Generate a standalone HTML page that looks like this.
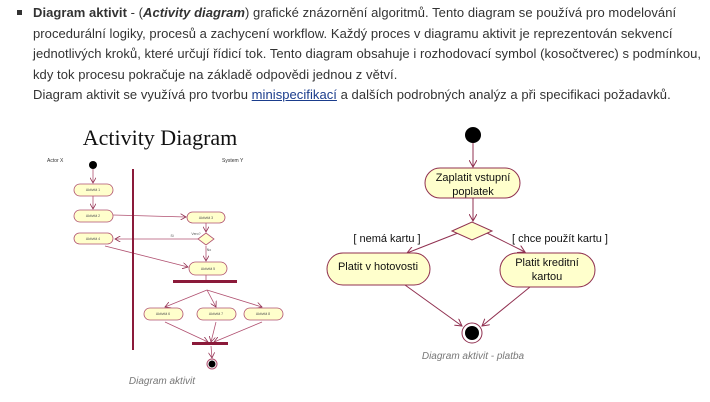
<!DOCTYPE html>
<html><head><meta charset="utf-8"><style>
body{margin:0;background:#fff;width:710px;height:402px;overflow:hidden;position:relative;font-family:"Liberation Sans",sans-serif}
.t{position:absolute;left:33px;top:3px;font-size:13px;line-height:20.6px;color:#333;width:690px;letter-spacing:0.05px;white-space:nowrap}
.b{position:absolute;left:17px;top:10px;width:5px;height:5px;background:#333}
a{color:#1a3c8c;text-decoration:underline}
svg{position:absolute;left:0;top:0}
</style></head><body>
<div class="b"></div>
<div class="t"><b>Diagram aktivit</b> - (<b><i>Activity diagram</i></b>) grafické znázornění algoritmů. Tento diagram se používá pro modelování<br>procedurální logiky, procesů a zachycení workflow. Každý proces v diagramu aktivit je reprezentován sekvencí<br>jednotlivých kroků, které určují řídicí tok. Tento diagram obsahuje i rozhodovací symbol (kosočtverec) s podmínkou,<br>kdy tok procesu pokračuje na základě odpovědi jednou z větví.<br>Diagram aktivit se využívá pro tvorbu <a>minispecifikací</a> a dalších podrobných analýz a při specifikaci požadavků.</div>
<svg width="710" height="402" viewBox="0 0 710 402">
<defs><marker id="a" markerWidth="8" markerHeight="8" refX="7" refY="4" orient="auto"><path d="M0,0 L7,4 L0,8" fill="none" stroke="#903050" stroke-width="1"/></marker></defs>
<g font-family="Liberation Serif" font-size="22" fill="#111"><text x="160" y="145" text-anchor="middle">Activity Diagram</text></g>
<g font-family="Liberation Sans" font-size="5" fill="#333"><text x="47" y="162">Actor X</text><text x="222" y="162">System Y</text></g>
<g stroke="#b05070" stroke-width="0.8" fill="none" marker-end="url(#a)">
<line x1="93" y1="169" x2="93" y2="183"/><line x1="93" y1="196" x2="93" y2="209"/>
<line x1="113" y1="215" x2="186" y2="217"/><line x1="206" y1="223" x2="206" y2="232"/>
<line x1="198" y1="239" x2="115" y2="239"/><line x1="206" y1="246" x2="206" y2="261"/>
<line x1="105" y1="246" x2="188" y2="267"/>
<line x1="207" y1="290" x2="165" y2="307"/><line x1="207" y1="290" x2="216" y2="307"/><line x1="207" y1="290" x2="262" y2="307"/>
<line x1="165" y1="322" x2="208" y2="342"/><line x1="216" y1="322" x2="211" y2="342"/><line x1="262" y1="322" x2="214" y2="342"/>
<line x1="211" y1="346" x2="212" y2="358"/>
</g>
<line x1="206" y1="275" x2="206" y2="281" stroke="#b05070" stroke-width="0.8"/>
<rect x="132" y="169" width="2" height="181" fill="#8b1a3a"/>
<rect x="173" y="280" width="64" height="3" fill="#8b1a3a"/>
<rect x="192" y="342" width="36" height="3" fill="#8b1a3a"/>
<circle cx="93" cy="165" r="4" fill="#000"/>
<circle cx="212" cy="364" r="5" fill="#fff" stroke="#b05070"/><circle cx="212" cy="364" r="3.5" fill="#000"/>
<g fill="#ffffcc" stroke="#b05070" stroke-width="0.8">
<rect x="74" y="184" width="39" height="12" rx="6"/><rect x="74" y="210" width="39" height="12" rx="6"/><rect x="74" y="233" width="39" height="11" rx="5.5"/>
<rect x="187" y="212" width="38" height="11" rx="5.5"/><rect x="189" y="262" width="38" height="13" rx="6.5"/>
<rect x="144" y="308" width="39" height="12" rx="6"/><rect x="197" y="308" width="39" height="12" rx="6"/><rect x="244" y="308" width="39" height="12" rx="6"/>
<polygon points="198,239 206,233 214,239 206,245"/>
</g>
<g font-family="Liberation Sans" font-size="3.5" fill="#555" text-anchor="middle">
<text x="93" y="191">Aktivită 1</text><text x="93" y="217">Aktivită 2</text><text x="93" y="240">Aktivită 4</text><text x="206" y="219">Aktivită 3</text><text x="208" y="270">Aktivită 5</text>
<text x="163" y="315">Aktivită 6</text><text x="216" y="315">Aktivită 7</text><text x="263" y="315">Aktivită 8</text>
<text x="172" y="237">Si</text><text x="196" y="235">Vero?</text><text x="209" y="251">No</text></g>
<text x="162" y="384" font-family="Liberation Sans" font-size="10" font-style="italic" fill="#777" text-anchor="middle">Diagram aktivit</text>
<g stroke="#903050" stroke-width="1" fill="none" marker-end="url(#a)">
<line x1="473" y1="143" x2="473" y2="167"/><line x1="473" y1="198" x2="473" y2="221"/>
<line x1="458" y1="233" x2="407" y2="253"/><line x1="487" y1="233" x2="525" y2="252"/>
<line x1="405" y1="285" x2="462" y2="326"/><line x1="530" y1="287" x2="482" y2="326"/>
</g>
<circle cx="473" cy="135" r="8" fill="#000"/>
<circle cx="472" cy="333" r="10" fill="#fff" stroke="#903050"/><circle cx="472" cy="333" r="7" fill="#000"/>
<g fill="#ffffcc" stroke="#903050" stroke-width="1">
<rect x="425" y="168" width="95" height="30" rx="15"/>
<rect x="327" y="253" width="103" height="32" rx="16"/>
<rect x="500" y="253" width="95" height="34" rx="17"/>
<polygon points="452,231 472,222 492,231 472,240"/>
</g>
<g font-family="Liberation Sans" font-size="11" fill="#111" text-anchor="middle">
<text x="473" y="181">Zaplatit vstupní</text><text x="473" y="195">poplatek</text>
<text x="378" y="270">Platit v hotovosti</text>
<text x="547" y="266">Platit kreditní</text><text x="547" y="280">kartou</text>
<text x="387" y="242">[ nemá kartu ]</text><text x="560" y="242">[ chce použít kartu ]</text>
</g>
<text x="473" y="359" font-family="Liberation Sans" font-size="10" font-style="italic" fill="#777" text-anchor="middle">Diagram aktivit - platba</text>
</svg>
</body></html>
